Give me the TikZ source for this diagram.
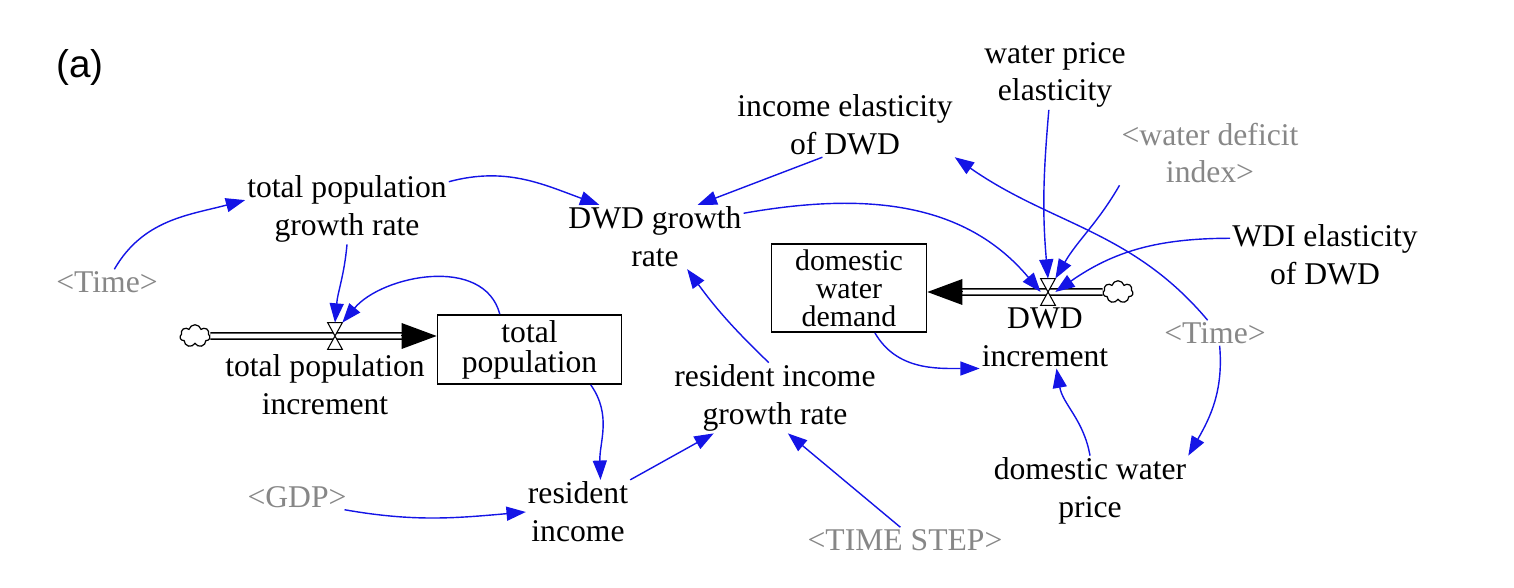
\documentclass[tikz,border=0pt]{standalone}
\usepackage{fontspec}
\setmainfont{Liberation Serif}
\newfontfamily\panelfont{Liberation Sans}
\usepackage{tikz}
\usetikzlibrary{arrows.meta, shapes.symbols}
\definecolor{linkBlue}{RGB}{20, 20, 230}
\definecolor{ghostGray}{RGB}{135, 135, 135}

\begin{document}
\begin{tikzpicture}[
    var/.style={align=center, inner sep=1pt, font=\fontsize{18}{21.5}\selectfont},
    ghost/.style={var, text=ghostGray},
    stock/.style={draw, line width=1pt, align=center, inner sep=1pt, font=\fontsize{18}{17}\selectfont},
    valve/.style={inner sep=0pt, minimum width=0.28cm, minimum height=0.52cm},
    source/.style={cloud, cloud puffs=7, draw, line width=0.7pt, minimum width=0.6cm, minimum height=0.45cm, inner sep=0pt},
    link/.style={linkBlue, line width=0.8pt, -{Triangle[length=11pt,width=8pt]}},
    pipe/.style={double, double distance=2.6pt, line width=0.9pt},
    pipehead/.style={line width=0pt, -{Triangle[length=0.7cm,width=0.52cm]}}
  ]
      \useasboundingbox (0,0) rectangle (30.28,-11.76);
      \node[font=\panelfont\fontsize{22}{26}\selectfont] (panel) at (1.6,-1.36) {(a)};

      % Variables
      \node[var] (tpgr) at (6.94,-4.18) {total population\\growth rate};
      \node[ghost] (time1) at (2.14,-5.64) {<Time>};
      \node[var] (dgr) at (13.1,-4.74) {DWD growth\\rate};
      \node[var] (ied) at (16.9,-2.5) {income elasticity\\of DWD};
      \node[var] (wpe) at (21.1,-1.5) {water price\\elasticity};
      \node[ghost] (wdi) at (24.2,-3.06) {<water deficit\\index>};
      \node[var] (wdie) at (26.5,-5.1) {WDI elasticity\\of DWD};
      \node[var] (tpi) at (6.5,-7.7) {total population\\increment};
      \node[var] (dwdi) at (20.9,-6.74) {DWD\\increment};
      \node[ghost] (time2) at (24.3,-6.66) {<Time>};
      \node[var] (rigr) at (15.5,-7.96) {resident income\\growth rate};
      \node[var] (dwp) at (21.8,-9.82) {domestic water\\price};
      \node[ghost] (gdp) at (5.94,-9.94) {<GDP>};
      \node[var] (ri) at (11.56,-10.24) {resident\\income};
      \node[ghost] (ts) at (18.1,-10.8) {<TIME STEP>};

      % Stocks
      \node[stock, minimum width=3.68cm, minimum height=1.38cm] (tp) at (10.59,-6.99) {total\\population};
      \node[stock, minimum width=3.1cm, minimum height=1.76cm, font=\fontsize{17}{16}\selectfont] (dwd) at (16.98,-5.76) {domestic\\water\\demand};

      % Flows
      \node[source] (cL) at (3.9,-6.72) {};
      \node[valve] (vL) at (6.7,-6.72) {};
      \node[source] (cR) at (22.36,-5.84) {};
      \node[valve] (vR) at (20.96,-5.84) {};
      \coordinate (tpIn) at (tp.west |- cL);
      \coordinate (dwdIn) at (dwd.east |- cR);
      \draw[pipe] (cL.east) -- ([xshift=-0.68cm]tpIn);
      \draw[pipehead] ([xshift=-0.7cm]tpIn) -- (tpIn);
      \draw[pipe] (cR.west) -- ([xshift=0.68cm]dwdIn);
      \draw[pipehead] ([xshift=0.7cm]dwdIn) -- (dwdIn);
      \draw[fill=white, line width=0.6pt] (vL.north west) -- (vL.south east) -- (vL.south west) -- (vL.north east) -- cycle;
      \draw[fill=white, line width=0.6pt] (vR.north west) -- (vR.south east) -- (vR.south west) -- (vR.north east) -- cycle;

      % Links
      \draw[link] (time1.60) to[out=60,in=195] (tpgr.175);
      \draw[link] (tpgr.15) to[out=15,in=160] (dgr.150);
      \draw[link] (tpgr.south) to[out=-95,in=85] (vL.north);
      \draw[link] (tp.130) to[out=105,in=50] (vL.north east);
      \draw[link] (tp.-30) to[out=-55,in=92] (ri.55);
      \draw[link] (gdp.-15) to[out=-10,in=185] (ri.west);
      \draw[link] (ri.north east) -- (rigr.210);
      \draw[link] (ts.110) -- (rigr.-70);
      \draw[link] (rigr.100) to[bend left=5] (dgr.-45);
      \draw[link] (ied.235) -- (dgr.37);
      \draw[link] (dgr.15) to[out=10,in=130] (vR.west);
      \draw[link] (wpe.-100) to[out=-95,in=95] (vR.north);
      \draw[link] (wdi.south west) to[out=-120,in=60] (vR.north east);
      \draw[link] (wdie.170) to[out=180,in=35] (vR.east);
      \draw[link] (time2.120) to[out=130,in=-35] (ied.south east);
      \draw[link] (time2.-70) to[out=-85,in=60] (dwp.north east);
      \draw[link] (dwp.north) to[out=100,in=-80] (dwdi.-70);
      \draw[link] (dwd.-60) to[out=-60,in=180] (dwdi.south west);
    \end{tikzpicture}
\end{document}
